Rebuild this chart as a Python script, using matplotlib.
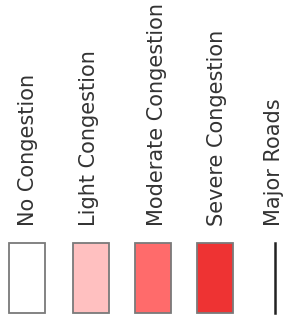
import matplotlib
matplotlib.use("Agg")
import matplotlib.pyplot as plt
from matplotlib.patches import Rectangle

labels = ["No Congestion", "Light Congestion", "Moderate Congestion", "Severe Congestion", "Major Roads"]
fill_colors = ["#FFFFFF", "#FFC0C0", "#FF6B6B", "#EE3333", None]
kinds = ["box", "box", "box", "box", "line"]

W, H = 284, 315
fig = plt.figure(figsize=(W / 100, H / 100), dpi=100)
ax = fig.add_axes([0, 0, 1, 1])
ax.set_xlim(0, W)
ax.set_ylim(H, 0)
ax.axis("off")

item_x = [27, 91, 153, 215, 275]
text_x = [28, 89, 157, 217, 274]
box_w = 36
box_top, box_bot = 243, 313

for lab, col, kind, ix, tx in zip(labels, fill_colors, kinds, item_x, text_x):
    if kind == "box":
        ax.add_patch(Rectangle((ix - box_w / 2, box_top), box_w, box_bot - box_top,
                               facecolor=col, edgecolor="#7a7a7a", linewidth=1.3))
    else:
        ax.plot([ix, ix], [box_top, box_bot], color="#222222", linewidth=1.8)
    ax.text(tx, 226, lab, rotation=90, rotation_mode="anchor", ha="left", va="center",
            fontsize=15, color="#333333", family="DejaVu Sans")

fig.savefig("out.png", dpi=100)
